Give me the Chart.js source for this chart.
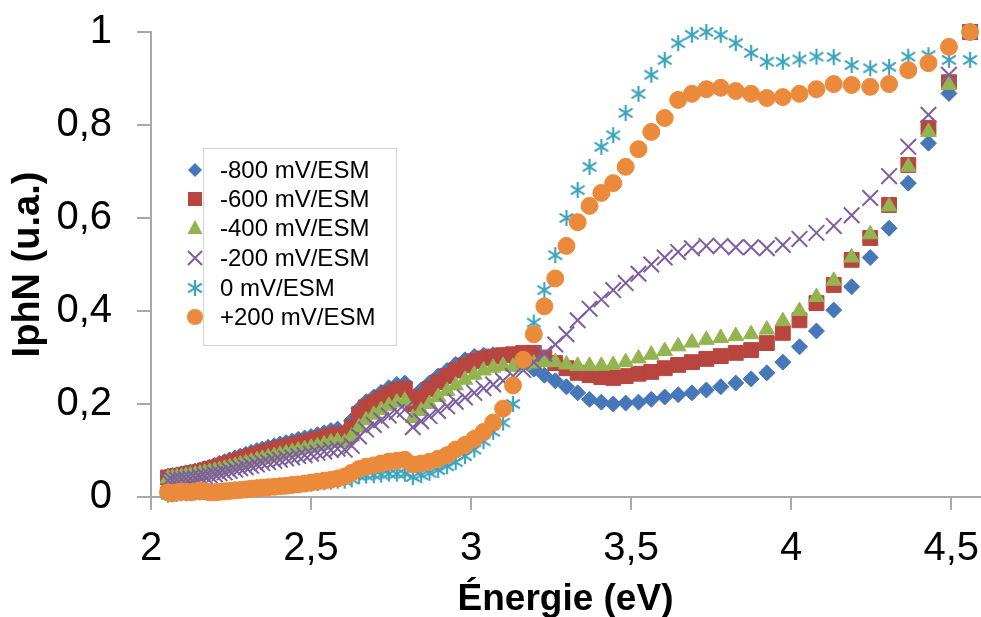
<!DOCTYPE html>
<html>
<head>
<meta charset="UTF-8">
<title>IphN - Énergie</title>
<script src="https://cdn.jsdelivr.net/npm/chart.js"></script>
<style>
  html, body { margin: 0; padding: 0; background: #fff; }
  .box { width: 981px; height: 617px; }
</style>
</head>
<body>
<div class="box"><canvas id="chart" width="981" height="617"></canvas></div>
<script>
// Énergie (eV)
const energies = [
  2.053, 2.067, 2.081, 2.095, 2.109, 2.123, 2.138, 2.153, 2.168, 2.183,
  2.199, 2.214, 2.230, 2.246, 2.263, 2.279, 2.296, 2.313, 2.331, 2.348,
  2.366, 2.385, 2.403, 2.422, 2.441, 2.460, 2.480, 2.500, 2.520, 2.541,
  2.562, 2.583, 2.605, 2.627, 2.650, 2.672, 2.696, 2.719, 2.743, 2.768,
  2.793, 2.818, 2.844, 2.870, 2.897, 2.925, 2.952, 2.981, 3.010, 3.039,
  3.069, 3.100, 3.131, 3.163, 3.196, 3.229, 3.263, 3.298, 3.333, 3.370,
  3.407, 3.444, 3.483, 3.523, 3.563, 3.605, 3.647, 3.690, 3.735, 3.780,
  3.827, 3.875, 3.924, 3.974, 4.026, 4.079, 4.133, 4.189, 4.247, 4.306,
  4.366, 4.429, 4.493, 4.559
];

// IphN (u.a.) par potentiel
const iphM800 = [
  0.045, 0.046, 0.048, 0.050, 0.052, 0.054, 0.056, 0.058, 0.061, 0.064,
  0.068, 0.072, 0.076, 0.080, 0.084, 0.088, 0.092, 0.096, 0.100, 0.103,
  0.107, 0.110, 0.114, 0.117, 0.120, 0.124, 0.127, 0.130, 0.134, 0.138,
  0.143, 0.146, 0.140, 0.165, 0.190, 0.205, 0.215, 0.225, 0.235, 0.242,
  0.245, 0.213, 0.230, 0.245, 0.260, 0.272, 0.285, 0.295, 0.302, 0.305,
  0.306, 0.305, 0.298, 0.288, 0.275, 0.262, 0.250, 0.237, 0.224, 0.210,
  0.204, 0.200, 0.202, 0.204, 0.210, 0.215, 0.220, 0.224, 0.230, 0.237,
  0.245, 0.254, 0.267, 0.290, 0.323, 0.357, 0.402, 0.452, 0.515, 0.578,
  0.675, 0.761, 0.868, 1.000
];
const iphM600 = [
  0.042, 0.043, 0.045, 0.046, 0.048, 0.050, 0.052, 0.054, 0.057, 0.060,
  0.063, 0.066, 0.070, 0.073, 0.077, 0.080, 0.084, 0.088, 0.091, 0.095,
  0.098, 0.101, 0.105, 0.108, 0.111, 0.114, 0.117, 0.120, 0.124, 0.128,
  0.132, 0.135, 0.130, 0.150, 0.178, 0.193, 0.203, 0.212, 0.222, 0.230,
  0.233, 0.200, 0.215, 0.232, 0.247, 0.260, 0.272, 0.283, 0.292, 0.298,
  0.302, 0.305, 0.307, 0.310, 0.310, 0.300, 0.288, 0.277, 0.267, 0.262,
  0.258, 0.256, 0.260, 0.265, 0.269, 0.277, 0.284, 0.290, 0.297, 0.303,
  0.310, 0.316, 0.331, 0.353, 0.380, 0.417, 0.456, 0.510, 0.557, 0.628,
  0.714, 0.794, 0.892, 1.000
];
const iphM400 = [
  0.040, 0.041, 0.042, 0.043, 0.045, 0.046, 0.048, 0.050, 0.052, 0.054,
  0.056, 0.058, 0.061, 0.064, 0.067, 0.070, 0.073, 0.076, 0.079, 0.082,
  0.085, 0.088, 0.091, 0.094, 0.097, 0.100, 0.103, 0.106, 0.109, 0.113,
  0.117, 0.120, 0.117, 0.130, 0.150, 0.165, 0.177, 0.187, 0.196, 0.203,
  0.207, 0.170, 0.185, 0.200, 0.215, 0.228, 0.240, 0.252, 0.263, 0.272,
  0.278, 0.282, 0.280, 0.283, 0.287, 0.290, 0.290, 0.285, 0.282, 0.282,
  0.282, 0.284, 0.290, 0.298, 0.306, 0.314, 0.324, 0.332, 0.338, 0.342,
  0.346, 0.350, 0.360, 0.378, 0.400, 0.430, 0.465, 0.515, 0.565, 0.625,
  0.710, 0.785, 0.886, 1.000
];
const iphM200 = [
  0.035, 0.036, 0.037, 0.038, 0.039, 0.040, 0.041, 0.043, 0.045, 0.047,
  0.049, 0.051, 0.053, 0.056, 0.059, 0.062, 0.064, 0.067, 0.070, 0.073,
  0.075, 0.078, 0.080, 0.083, 0.085, 0.088, 0.090, 0.093, 0.095, 0.098,
  0.101, 0.104, 0.102, 0.110, 0.130, 0.145, 0.155, 0.165, 0.175, 0.183,
  0.188, 0.150, 0.163, 0.174, 0.185, 0.195, 0.205, 0.214, 0.224, 0.234,
  0.242, 0.250, 0.260, 0.273, 0.290, 0.308, 0.328, 0.350, 0.380, 0.405,
  0.425, 0.445, 0.460, 0.480, 0.500, 0.515, 0.527, 0.535, 0.540, 0.540,
  0.537, 0.537, 0.535, 0.542, 0.555, 0.568, 0.583, 0.606, 0.643, 0.690,
  0.753, 0.822, 0.908, 1.000
];
const iph0 = [
  0.005, 0.006, 0.007, 0.008, 0.008, 0.009, 0.010, 0.010, 0.011, 0.012,
  0.012, 0.013, 0.014, 0.015, 0.016, 0.017, 0.018, 0.019, 0.020, 0.021,
  0.022, 0.023, 0.024, 0.025, 0.026, 0.027, 0.028, 0.029, 0.030, 0.032,
  0.033, 0.035, 0.035, 0.038, 0.045, 0.046, 0.047, 0.048, 0.050, 0.050,
  0.050, 0.043, 0.047, 0.052, 0.058, 0.066, 0.075, 0.088, 0.102, 0.120,
  0.140, 0.160, 0.200, 0.290, 0.375, 0.445, 0.520, 0.600, 0.660, 0.710,
  0.753, 0.778, 0.826, 0.867, 0.908, 0.940, 0.976, 0.994, 1.000, 0.994,
  0.976, 0.955, 0.936, 0.936, 0.941, 0.947, 0.946, 0.929, 0.922, 0.925,
  0.947, 0.950, 0.940, 0.940
];
const iphP200 = [
  0.010, 0.008, 0.010, 0.012, 0.011, 0.010, 0.012, 0.014, 0.012, 0.010,
  0.010, 0.011, 0.012, 0.013, 0.014, 0.015, 0.016, 0.018, 0.019, 0.020,
  0.021, 0.022, 0.023, 0.024, 0.026, 0.027, 0.029, 0.031, 0.033, 0.035,
  0.037, 0.040, 0.044, 0.052, 0.060, 0.065, 0.068, 0.072, 0.076, 0.078,
  0.080, 0.070, 0.072, 0.076, 0.082, 0.090, 0.102, 0.112, 0.125, 0.140,
  0.160, 0.190, 0.240, 0.295, 0.350, 0.410, 0.470, 0.540, 0.591, 0.626,
  0.654, 0.675, 0.710, 0.748, 0.785, 0.815, 0.854, 0.867, 0.877, 0.880,
  0.873, 0.867, 0.858, 0.860, 0.867, 0.877, 0.888, 0.886, 0.882, 0.888,
  0.918, 0.933, 0.968, 1.000
];

const seriesLabels = ['-800 mV/ESM', '-600 mV/ESM', '-400 mV/ESM', '-200 mV/ESM', '0 mV/ESM', '+200 mV/ESM'];
const seriesValues = [iphM800, iphM600, iphM400, iphM200, iph0, iphP200];

const FONT = "'Liberation Sans', Arial, sans-serif";
const colors = ['#4677B8', '#B8463F', '#93B450', '#7D5FA0', '#3FA3BD', '#EC8A3B'];

// marqueur étoile façon Excel (trait vertical + croix)
function makeStar(color, size) {
  const c = document.createElement('canvas');
  c.width = size; c.height = size;
  const g = c.getContext('2d');
  const m = size / 2, r = size / 2 - 1;
  g.strokeStyle = color;
  g.lineWidth = 2.2;
  g.beginPath();
  g.moveTo(m, m - r); g.lineTo(m, m + r);
  g.moveTo(m - r * 0.85, m - r * 0.55); g.lineTo(m + r * 0.85, m + r * 0.55);
  g.moveTo(m - r * 0.85, m + r * 0.55); g.lineTo(m + r * 0.85, m - r * 0.55);
  g.stroke();
  return c;
}
const starImg = makeStar(colors[4], 18);

const markers = [
  { style: 'rectRot', radius: 8 },
  { style: 'rect', radius: 10.5 },
  { style: 'triangle', radius: 9 },
  { style: 'crossRot', radius: 11 },
  { style: starImg, radius: 9 },
  { style: 'circle', radius: 8.5 }
];

const datasets = seriesValues.map((vals, i) => ({
  label: seriesLabels[i],
  data: energies.map((e, k) => ({ x: e, y: vals[k] })),
  showLine: false,
  pointStyle: markers[i].style,
  pointRadius: markers[i].radius,
  pointHoverRadius: markers[i].radius,
  pointBackgroundColor: colors[i],
  pointBorderColor: colors[i],
  pointBorderWidth: i === 3 ? 2 : 1,
  order: seriesValues.length - i,
  clip: false
}));

// légende dessinée à la main (marqueurs hors du cadre comme dans l'original)
function drawMarker(ctx, i, x, y) {
  const col = colors[i];
  ctx.save();
  ctx.fillStyle = col; ctx.strokeStyle = col;
  ctx.beginPath();
  if (i === 0) {
    ctx.moveTo(x - 7, y); ctx.lineTo(x, y - 7); ctx.lineTo(x + 7, y); ctx.lineTo(x, y + 7);
    ctx.closePath(); ctx.fill();
  } else if (i === 1) {
    ctx.rect(x - 7, y - 7, 14, 14); ctx.fill();
  } else if (i === 2) {
    ctx.moveTo(x, y - 8); ctx.lineTo(x + 7.5, y + 6); ctx.lineTo(x - 7.5, y + 6);
    ctx.closePath(); ctx.fill();
  } else if (i === 3) {
    ctx.lineWidth = 2;
    ctx.moveTo(x - 7, y - 7); ctx.lineTo(x + 7, y + 7);
    ctx.moveTo(x - 7, y + 7); ctx.lineTo(x + 7, y - 7);
    ctx.stroke();
  } else if (i === 4) {
    ctx.drawImage(starImg, x - 9, y - 9);
  } else {
    ctx.arc(x, y, 8, 0, Math.PI * 2); ctx.fill();
  }
  ctx.restore();
}

const legendPlugin = {
  id: 'sideLegend',
  afterDraw(chart) {
    const ctx = chart.ctx;
    ctx.save();
    ctx.fillStyle = '#ffffff';
    ctx.fillRect(203.5, 148.5, 193, 197);
    ctx.strokeStyle = '#D4D4D4';
    ctx.lineWidth = 1;
    ctx.strokeRect(203.5, 148.5, 193, 197);
    const rows = [170, 199, 228, 258, 288, 317];
    ctx.font = '24px ' + FONT;
    ctx.fillStyle = '#000';
    ctx.textBaseline = 'middle';
    ctx.textAlign = 'left';
    seriesLabels.forEach((lab, i) => {
      drawMarker(ctx, i, 195, rows[i]);
      ctx.fillText(lab, 220, rows[i] + 1);
    });
    ctx.restore();
  }
};

const fmt = v => String(Number(v.toFixed(2))).replace('.', ',');

new Chart(document.getElementById('chart'), {
  type: 'scatter',
  data: { datasets },
  options: {
    responsive: false,
    animation: false,
    events: [],
    layout: { autoPadding: false, padding: { top: 32, right: 1, left: 0, bottom: 0 } },
    plugins: { legend: { display: false }, tooltip: { enabled: false } },
    scales: {
      x: {
        type: 'linear',
        position: 'bottom',
        min: 2,
        max: 4.59,
        afterFit: s => { s.height = 120; s.paddingLeft = 0; s.paddingRight = 0; },
        ticks: {
          stepSize: 0.5,
          includeBounds: false,
          padding: 15,
          color: '#000',
          font: { family: FONT, size: 40 },
          maxRotation: 0,
          callback: v => fmt(v)
        },
        grid: { drawOnChartArea: false, drawTicks: true, tickLength: 13, color: '#A8A8A8', lineWidth: 2 },
        border: { color: '#A8A8A8', width: 2 },
        title: {
          display: true,
          text: 'Énergie (eV)',
          color: '#000',
          font: { family: FONT, size: 37, weight: 'bold', lineHeight: 1 },
          padding: { top: 0, bottom: -1 }
        }
      },
      y: {
        type: 'linear',
        min: 0,
        max: 1,
        afterFit: s => { s.width = 151; s.paddingTop = 0; s.paddingBottom = 0; },
        ticks: {
          stepSize: 0.2,
          padding: 25,
          color: '#000',
          font: { family: FONT, size: 40 },
          callback: v => fmt(v)
        },
        grid: { drawOnChartArea: false, drawTicks: true, tickLength: 14, color: '#A8A8A8', lineWidth: 2 },
        border: { color: '#A8A8A8', width: 2 },
        title: {
          display: true,
          text: 'IphN (u.a.)',
          color: '#000',
          font: { family: FONT, size: 38, weight: 'bold' },
          padding: { top: 6, bottom: 0 }
        }
      }
    }
  },
  plugins: [legendPlugin]
});
</script>
</body>
</html>
